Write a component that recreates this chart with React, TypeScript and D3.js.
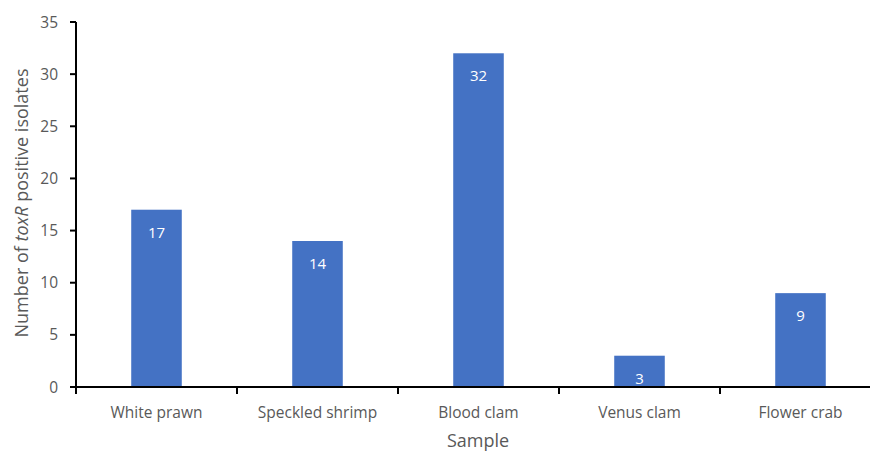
import React from "react";
import * as d3 from "d3";

const categories = ["White prawn", "Speckled shrimp", "Blood clam", "Venus clam", "Flower crab"];
const values = [17, 14, 32, 3, 9];
const yTicks = [0, 5, 10, 15, 20, 25, 30, 35];

export default function App() {
  const W = 870, H = 453;
  const x = d3.scaleBand<string>().domain(categories).range([76, 881]).paddingInner(0.686).paddingOuter(0.343);
  const xb = d3.scaleBand<string>().domain(categories).range([76, 881]);
  const y = d3.scaleLinear().domain([0, 35]).range([387, 22]);
  const font = "'Open Sans', 'Liberation Sans', sans-serif";
  const grey = "#595959";
  return (
    <svg width={W} height={H} style={{ position: "absolute", left: 0, top: 0, background: "#fff" }} fontFamily={font}>
      {values.map((v, i) => (
        <g key={i}>
          <rect x={x(categories[i])} y={y(v)} width={x.bandwidth()} height={y(0) - y(v)} fill="#4472C4" />
          <text x={x(categories[i])! + x.bandwidth() / 2} y={y(v) + 28} textAnchor="middle" fill="#fff" fontSize={15}>{v}</text>
        </g>
      ))}
      <line x1={76} x2={881} y1={y(0)} y2={y(0)} stroke="#000" strokeWidth={2} />
      <line x1={76} x2={76} y1={y(0) + 1} y2={y(35)} stroke="#000" strokeWidth={2} />
      {yTicks.map((t) => (
        <g key={t}>
          <line x1={70} x2={76} y1={y(t)} y2={y(t)} stroke="#000" strokeWidth={2} />
          <text x={58} y={y(t)} dy="0.36em" textAnchor="end" fill={grey} fontSize={15.5}>{t}</text>
        </g>
      ))}
      {categories.map((c, i) => (
        <g key={c}>
          <line x1={xb(c)!} x2={xb(c)!} y1={y(0)} y2={y(0) + 7} stroke="#000" strokeWidth={2} />
          <text x={xb(c)! + xb.bandwidth() / 2} y={418} textAnchor="middle" fill={grey} fontSize={15.5}>{c}</text>
        </g>
      ))}
      <text x={478} y={447} textAnchor="middle" fill={grey} fontSize={18}>Sample</text>
      <text transform="translate(28,203) rotate(-90)" textAnchor="middle" fill={grey} fontSize={18}>
        Number of <tspan fontStyle="italic">toxR</tspan> positive isolates
      </text>
    </svg>
  );
}
